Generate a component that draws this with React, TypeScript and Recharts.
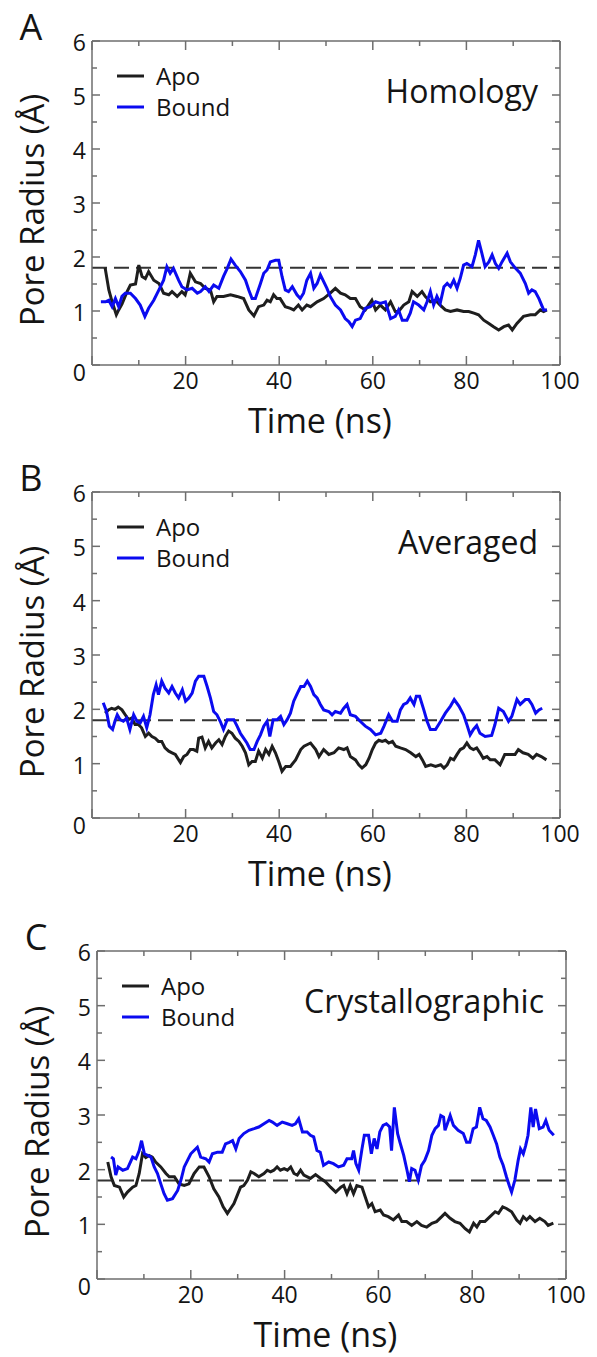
import React from "react";
import { LineChart, Line, XAxis, YAxis, ReferenceLine, Legend } from "recharts";

// Pore radius traces: time (ns) and radius (Å)
const apoHomologyTime = [2.8, 3.6, 4.3, 5.2, 5.7, 6.4, 7.5, 8.2, 9.3, 10.0, 10.7, 11.4, 12.1, 13.2, 14.3, 15.3, 16.4, 17.1, 18.2, 19.2, 19.9, 20.3, 21.0, 22.1, 23.2, 24.2, 25.3, 26.0, 26.7, 28.1, 29.6, 31.0, 32.4, 33.5, 34.6, 35.6, 36.7, 37.4, 38.1, 38.8, 39.5, 40.2, 41.3, 42.4, 43.1, 44.1, 44.9, 45.9, 46.7, 48.1, 49.5, 50.9, 52.0, 53.1, 54.1, 55.2, 56.3, 57.3, 58.4, 59.8, 60.6, 61.6, 62.7, 63.8, 64.8, 65.5, 66.6, 67.7, 68.4, 69.5, 70.5, 71.2, 72.3, 73.4, 74.4, 75.5, 76.6, 78.0, 79.4, 80.5, 81.6, 82.6, 83.7, 84.8, 85.8, 86.9, 88.0, 89.0, 89.8, 90.8, 92.2, 93.7, 94.7, 95.8, 96.5, 97.2];
const apoHomologyRadius = [1.8, 1.39, 1.17, 0.93, 1.02, 1.13, 1.36, 1.48, 1.5, 1.85, 1.64, 1.6, 1.73, 1.57, 1.51, 1.33, 1.3, 1.36, 1.27, 1.36, 1.3, 1.42, 1.7, 1.54, 1.51, 1.42, 1.39, 1.17, 1.27, 1.27, 1.3, 1.27, 1.23, 1.02, 0.91, 1.08, 1.11, 1.2, 1.17, 1.3, 1.23, 1.23, 1.08, 1.05, 1.02, 1.11, 1.02, 1.11, 1.08, 1.17, 1.23, 1.33, 1.42, 1.33, 1.3, 1.23, 1.23, 1.08, 1.02, 1.2, 1.02, 1.11, 1.02, 1.17, 0.99, 0.99, 1.11, 1.17, 1.36, 1.27, 1.36, 1.27, 1.17, 1.2, 1.11, 1.02, 0.99, 1.02, 0.99, 0.99, 0.96, 0.93, 0.83, 0.77, 0.71, 0.65, 0.71, 0.74, 0.65, 0.77, 0.9, 0.93, 0.93, 1.02, 0.99, 1.02];

const boundHomologyTime = [1.9, 2.9, 3.6, 4.3, 5.0, 5.7, 6.4, 7.1, 8.2, 9.3, 10.3, 11.3, 12.1, 13.2, 14.3, 15.3, 16.0, 16.7, 17.4, 18.5, 19.2, 20.3, 21.4, 22.5, 23.2, 24.2, 25.0, 26.0, 27.1, 28.1, 28.9, 29.7, 30.6, 31.7, 32.8, 33.5, 34.2, 34.9, 36.0, 36.7, 37.4, 38.1, 39.2, 39.9, 40.6, 41.3, 42.0, 42.8, 43.8, 44.5, 45.2, 45.9, 46.7, 47.4, 48.1, 48.8, 50.2, 50.9, 52.0, 53.1, 54.1, 54.9, 55.6, 56.3, 57.3, 58.4, 59.5, 60.6, 61.6, 62.7, 63.8, 64.8, 65.5, 66.3, 67.3, 68.0, 68.7, 69.8, 70.9, 71.6, 72.3, 73.0, 73.7, 74.4, 75.2, 75.9, 76.6, 77.3, 78.0, 78.7, 79.4, 80.1, 81.2, 81.9, 82.6, 83.3, 84.0, 84.8, 85.5, 86.2, 86.9, 87.6, 88.7, 89.4, 90.5, 91.5, 92.6, 93.3, 94.0, 94.7, 95.5, 96.5, 97.2];
const boundHomologyRadius = [1.17, 1.17, 1.2, 1.08, 1.23, 1.08, 1.27, 1.33, 1.33, 1.23, 1.11, 0.9, 1.05, 1.2, 1.39, 1.57, 1.82, 1.7, 1.79, 1.57, 1.45, 1.39, 1.42, 1.33, 1.36, 1.45, 1.36, 1.48, 1.42, 1.64, 1.79, 1.96, 1.85, 1.73, 1.57, 1.39, 1.23, 1.23, 1.51, 1.7, 1.76, 1.91, 1.94, 1.94, 1.64, 1.39, 1.36, 1.45, 1.3, 1.23, 1.33, 1.57, 1.7, 1.42, 1.51, 1.67, 1.42, 1.27, 1.11, 1.02, 0.86, 0.8, 0.71, 0.83, 0.86, 1.05, 1.08, 1.17, 1.14, 1.17, 0.86, 0.9, 1.02, 0.83, 0.83, 0.96, 1.17, 1.11, 1.02, 1.17, 1.36, 1.11, 1.27, 1.14, 1.45, 1.51, 1.45, 1.57, 1.42, 1.61, 1.85, 1.88, 1.82, 2.04, 2.31, 2.07, 1.82, 1.91, 2.04, 1.88, 1.79, 1.91, 2.07, 1.91, 1.79, 1.7, 1.51, 1.33, 1.39, 1.36, 1.23, 1.02, 1.02];

const apoAveragedTime = [2.8, 3.5, 4.2, 4.9, 5.6, 6.4, 7.1, 7.8, 8.5, 9.2, 9.9, 10.6, 11.4, 12.1, 12.8, 13.5, 14.2, 14.9, 15.6, 16.4, 17.1, 17.8, 18.9, 19.6, 20.3, 21.0, 21.7, 22.4, 22.8, 23.5, 24.2, 24.9, 25.6, 26.4, 27.1, 27.8, 28.5, 29.2, 29.9, 30.6, 31.4, 32.1, 32.8, 33.5, 34.2, 34.9, 35.6, 36.4, 37.1, 37.8, 38.5, 39.2, 39.9, 40.6, 41.4, 42.4, 43.5, 44.6, 45.3, 46.7, 47.8, 48.5, 49.5, 50.6, 51.7, 52.7, 53.8, 54.5, 55.2, 56.3, 57.0, 57.7, 58.5, 59.2, 59.9, 60.6, 61.3, 62.0, 62.7, 63.4, 64.2, 64.9, 65.9, 67.0, 68.1, 69.2, 69.9, 70.6, 71.3, 72.4, 73.4, 74.5, 75.2, 75.9, 76.6, 77.3, 78.0, 78.7, 79.4, 80.1, 80.8, 81.5, 82.2, 82.9, 83.6, 84.4, 85.1, 86.1, 87.2, 88.2, 89.3, 90.4, 91.1, 92.1, 93.2, 94.2, 95.0, 96.0, 97.1];
const apoAveragedRadius = [1.93, 1.99, 2.02, 2.0, 2.04, 1.99, 1.9, 1.81, 1.84, 1.72, 1.72, 1.66, 1.5, 1.56, 1.5, 1.47, 1.41, 1.41, 1.29, 1.23, 1.2, 1.17, 1.02, 1.13, 1.17, 1.26, 1.26, 1.23, 1.47, 1.49, 1.29, 1.41, 1.29, 1.38, 1.44, 1.35, 1.5, 1.6, 1.56, 1.47, 1.41, 1.32, 1.2, 0.98, 1.04, 1.04, 1.23, 1.1, 1.26, 1.17, 1.32, 1.2, 1.04, 0.86, 0.95, 0.95, 1.07, 1.26, 1.32, 1.38, 1.26, 1.13, 1.26, 1.17, 1.2, 1.29, 1.26, 1.29, 1.13, 1.07, 0.98, 0.92, 0.98, 1.1, 1.26, 1.38, 1.43, 1.41, 1.43, 1.38, 1.41, 1.32, 1.29, 1.26, 1.2, 1.13, 1.17, 1.07, 0.95, 0.98, 0.95, 0.98, 0.92, 0.98, 1.1, 1.07, 1.17, 1.26, 1.29, 1.38, 1.29, 1.26, 1.29, 1.2, 1.1, 1.13, 1.07, 1.07, 0.98, 1.17, 1.17, 1.17, 1.26, 1.2, 1.17, 1.1, 1.17, 1.13, 1.07];

const boundAveragedTime = [2.4, 3.1, 3.7, 4.4, 4.9, 5.4, 6.0, 6.7, 7.4, 8.1, 8.9, 9.6, 10.3, 11.0, 11.7, 12.4, 13.1, 13.7, 14.2, 14.9, 15.6, 16.4, 17.1, 17.8, 18.5, 19.3, 20.0, 20.7, 21.4, 22.1, 22.8, 23.9, 24.6, 25.3, 26.0, 26.7, 27.4, 28.1, 28.9, 29.6, 30.3, 31.0, 31.7, 32.4, 33.1, 33.8, 34.6, 35.3, 36.0, 36.7, 37.4, 38.0, 38.7, 39.6, 40.3, 41.0, 41.7, 42.4, 43.1, 43.9, 44.6, 45.3, 46.0, 46.7, 47.4, 48.1, 48.8, 49.5, 50.6, 51.3, 52.0, 53.1, 53.8, 54.5, 55.2, 56.3, 57.3, 58.4, 59.5, 60.6, 61.7, 62.4, 63.4, 64.2, 65.2, 65.9, 66.6, 67.3, 68.0, 68.8, 69.3, 70.0, 70.9, 71.6, 72.3, 73.4, 74.5, 75.5, 76.6, 77.4, 78.4, 79.4, 80.1, 80.8, 81.5, 82.2, 82.9, 84.0, 85.4, 86.1, 86.9, 87.9, 89.0, 89.7, 90.8, 91.5, 92.6, 93.3, 94.0, 94.8, 95.5, 96.2];
const boundAveragedRadius = [2.12, 1.96, 1.69, 1.63, 1.78, 1.9, 1.81, 1.78, 1.84, 1.63, 1.9, 1.78, 1.75, 1.87, 1.66, 1.9, 2.27, 2.45, 2.27, 2.52, 2.39, 2.3, 2.42, 2.3, 2.21, 2.36, 2.15, 2.21, 2.3, 2.52, 2.61, 2.61, 2.42, 2.21, 1.96, 1.9, 1.78, 1.63, 1.81, 1.81, 1.81, 1.69, 1.56, 1.47, 1.38, 1.26, 1.26, 1.41, 1.53, 1.69, 1.78, 1.5, 1.81, 1.81, 1.87, 1.72, 1.81, 1.93, 2.15, 2.3, 2.42, 2.42, 2.52, 2.42, 2.27, 2.21, 2.09, 1.99, 1.96, 1.9, 1.96, 1.93, 2.02, 2.09, 1.9, 1.87, 1.78, 1.69, 1.63, 1.53, 1.56, 1.69, 1.9, 1.78, 1.78, 1.99, 2.09, 2.12, 2.21, 2.09, 2.24, 2.24, 1.99, 1.78, 1.63, 1.63, 1.78, 1.93, 2.06, 2.18, 2.06, 1.9, 1.72, 1.53, 1.63, 1.7, 1.56, 1.5, 1.52, 1.72, 2.02, 1.96, 1.78, 1.87, 2.18, 2.09, 2.18, 2.18, 2.09, 1.93, 1.99, 2.02];

const apoCrystalTime = [2.3, 3.0, 3.7, 4.8, 5.7, 6.5, 7.6, 8.3, 9.0, 9.7, 10.4, 11.1, 11.8, 12.5, 13.6, 14.7, 15.4, 16.5, 17.5, 18.6, 19.6, 20.7, 21.8, 22.8, 23.9, 24.9, 26.0, 26.9, 27.8, 28.5, 29.2, 29.9, 30.6, 31.3, 32.1, 32.8, 33.5, 34.5, 35.6, 36.3, 37.0, 37.7, 38.4, 39.1, 39.9, 40.6, 41.3, 42.0, 42.7, 43.4, 44.1, 45.5, 46.6, 47.7, 48.7, 49.8, 50.9, 52.0, 52.6, 53.3, 54.0, 54.7, 55.4, 56.5, 57.2, 57.9, 58.6, 59.3, 60.4, 61.1, 62.1, 63.2, 64.3, 65.0, 66.0, 67.1, 68.2, 69.2, 70.3, 71.4, 72.4, 73.5, 74.2, 75.3, 76.3, 77.4, 78.5, 79.4, 80.3, 81.0, 81.7, 82.7, 83.8, 84.9, 85.6, 86.5, 87.3, 88.4, 89.5, 90.2, 90.9, 91.6, 92.3, 93.4, 94.4, 95.5, 96.2, 97.3];
const apoCrystalRadius = [2.14, 1.87, 1.71, 1.68, 1.5, 1.59, 1.68, 1.71, 1.93, 2.29, 2.22, 2.26, 2.23, 2.14, 2.05, 1.93, 1.87, 1.87, 1.74, 1.71, 1.74, 1.93, 2.05, 2.05, 1.87, 1.65, 1.5, 1.32, 1.2, 1.29, 1.38, 1.53, 1.68, 1.71, 1.81, 1.96, 1.93, 1.87, 1.93, 1.99, 1.96, 1.99, 2.05, 1.99, 2.02, 1.99, 2.05, 1.93, 1.9, 1.99, 1.9, 1.84, 1.91, 1.84, 1.78, 1.68, 1.59, 1.68, 1.71, 1.56, 1.71, 1.56, 1.71, 1.68, 1.5, 1.32, 1.38, 1.23, 1.26, 1.17, 1.14, 1.08, 1.17, 1.05, 1.05, 0.98, 1.05, 0.98, 0.95, 1.02, 1.05, 1.14, 1.2, 1.11, 1.05, 1.02, 0.92, 0.86, 1.02, 0.95, 1.05, 1.05, 1.14, 1.23, 1.2, 1.32, 1.29, 1.23, 1.08, 1.02, 1.14, 1.08, 1.14, 1.05, 1.11, 1.05, 0.98, 1.02];

const boundCrystalTime = [3.0, 3.5, 4.0, 4.5, 5.5, 6.5, 7.6, 8.3, 9.0, 9.5, 10.1, 10.8, 11.5, 12.2, 12.9, 13.6, 14.3, 15.0, 16.1, 17.2, 17.9, 18.6, 19.3, 20.0, 20.7, 21.4, 22.1, 23.2, 23.9, 24.6, 25.7, 26.7, 27.4, 28.2, 28.9, 29.6, 30.3, 31.3, 32.4, 33.5, 34.5, 35.6, 36.7, 37.4, 38.4, 39.5, 40.6, 41.6, 42.3, 43.0, 43.8, 44.8, 45.5, 46.2, 46.9, 47.6, 48.3, 49.4, 50.4, 51.5, 52.6, 53.3, 54.3, 54.7, 55.2, 55.8, 56.5, 57.0, 57.9, 58.5, 59.1, 59.7, 60.3, 61.0, 61.7, 62.4, 62.8, 63.4, 64.1, 64.6, 65.4, 66.1, 66.6, 67.1, 67.8, 68.5, 69.2, 69.9, 70.7, 71.4, 72.1, 72.8, 73.3, 73.9, 74.2, 74.7, 75.3, 76.0, 77.0, 78.1, 78.8, 79.5, 80.2, 80.9, 81.6, 82.3, 83.0, 83.8, 84.5, 85.2, 85.9, 86.6, 87.3, 87.9, 88.4, 89.1, 89.8, 90.3, 90.9, 91.4, 91.9, 92.5, 93.0, 93.5, 94.3, 95.1, 95.7, 96.4, 97.4];
const boundCrystalRadius = [2.23, 2.2, 1.9, 2.05, 1.99, 2.02, 2.23, 2.2, 2.35, 2.53, 2.29, 2.26, 2.23, 2.05, 1.93, 1.74, 1.56, 1.44, 1.47, 1.62, 1.81, 2.05, 2.17, 2.29, 2.35, 2.41, 2.23, 2.2, 2.14, 2.29, 2.32, 2.32, 2.47, 2.5, 2.53, 2.38, 2.57, 2.66, 2.72, 2.75, 2.78, 2.84, 2.9, 2.87, 2.81, 2.87, 2.84, 2.81, 2.84, 2.93, 2.69, 2.69, 2.63, 2.6, 2.35, 2.32, 2.08, 2.14, 2.11, 2.05, 2.08, 2.2, 2.2, 2.35, 2.11, 1.99, 2.38, 2.63, 2.63, 2.29, 2.57, 2.38, 2.69, 2.81, 2.84, 2.78, 2.35, 3.14, 2.66, 2.5, 2.26, 1.99, 1.78, 2.02, 1.99, 1.81, 2.08, 2.17, 2.35, 2.63, 2.75, 2.81, 2.99, 2.96, 2.72, 2.84, 2.99, 2.81, 2.72, 2.66, 2.5, 2.5, 2.75, 2.78, 3.14, 2.93, 2.9, 2.78, 2.63, 2.47, 2.23, 2.08, 1.87, 1.71, 1.59, 1.81, 2.17, 2.38, 2.29, 2.44, 2.63, 3.14, 2.78, 3.11, 2.75, 2.78, 2.9, 2.72, 2.63];

const panelLetters = ["A", "B", "C"];
const panelNames = ["Homology", "Averaged", "Crystallographic"];
const seriesNames = ["Apo", "Bound"];
const referenceRadius = 1.8;
const xTicks = [0, 10, 20, 30, 40, 50, 60, 70, 80, 90, 100];
const xTickLabels = [20, 40, 60, 80, 100];
const yTicks = [0, 0.5, 1, 1.5, 2, 2.5, 3, 3.5, 4, 4.5, 5, 5.5, 6];
const yTickLabels = [0, 1, 2, 3, 4, 5, 6];

const W = 597;
const AXIS = "#6e6e6e";
const INK = "#141414";
const APO = "#1e1e1e";
const BOUND = "#0b0bf0";
const FONT = "'Open Sans', sans-serif";

const toPoints = (time: number[], radius: number[]) =>
	time.map((t, i) => ({ time: t, radius: radius[i] }));

// inward ticks on all four sides of the frame
const BottomTick = (props: any) => {
	const { x, y, payload } = props;
	const v = payload.value;
	return (
		<g>
			<line x1={x} x2={x} y1={y} y2={y - (v % 20 === 0 ? 9 : 5)} stroke={AXIS} strokeWidth={1.5} />
			{xTickLabels.includes(v) && (
				<text x={x} y={y + 24} textAnchor="middle" fontSize={23} fill={INK} fontFamily={FONT}>
					{v}
				</text>
			)}
		</g>
	);
};

const TopTick = (props: any) => {
	const { x, y, payload } = props;
	return <line x1={x} x2={x} y1={y} y2={y + (payload.value % 20 === 0 ? 9 : 5)} stroke={AXIS} strokeWidth={1.5} />;
};

const LeftTick = (props: any) => {
	const { x, y, payload } = props;
	const v = payload.value;
	const major = Number.isInteger(v);
	return (
		<g>
			<line x1={x} x2={x + (major ? 8 : 5)} y1={y} y2={y} stroke={AXIS} strokeWidth={1.5} />
			{yTickLabels.includes(v) && (
				<text x={x - 6} y={y + (v === 0 ? 16 : 10)} textAnchor="end" fontSize={23} fill={INK} fontFamily={FONT}>
					{v}
				</text>
			)}
		</g>
	);
};

const RightTick = (props: any) => {
	const { x, y, payload } = props;
	return <line x1={x} x2={x - (Number.isInteger(payload.value) ? 8 : 5)} y1={y} y2={y} stroke={AXIS} strokeWidth={1.5} />;
};

const LegendRows = (props: any) => (
	<div style={{ fontFamily: FONT, fontSize: 24, color: INK }}>
		{(props.payload || []).map((p: any) => (
			<div key={p.value} style={{ display: "flex", alignItems: "center", height: 31, lineHeight: "31px" }}>
				<svg width={27} height={4} style={{ marginRight: 12 }}>
					<line x1={0} x2={27} y1={2} y2={2} stroke={p.color} strokeWidth={3} />
				</svg>
				<span>{p.value}</span>
			</div>
		))}
	</div>
);

type PanelProps = {
	top: number;
	height: number;
	plot: { top: number; right: number; bottom: number; left: number };
	index: number;
	apo: { time: number; radius: number }[];
	bound: { time: number; radius: number }[];
};

// plot = distances of the frame from the panel edges; each axis takes 1px of it
const Panel = ({ top, height, plot, index, apo, bound }: PanelProps) => {
	const plotLeft = plot.left;
	const plotTop = plot.top;
	const plotRight = W - plot.right;
	const plotBottom = height - plot.bottom;
	const midX = (plotLeft + plotRight) / 2;
	const midY = (plotTop + plotBottom) / 2;
	const margin = { top: plot.top - 1, right: plot.right - 1, bottom: plot.bottom - 1, left: plot.left - 1 };
	const frame = { stroke: AXIS, strokeWidth: 1.5 };
	return (
		<div style={{ position: "absolute", left: 0, top, width: W, height }}>
			<LineChart width={W} height={height} margin={margin}>
				<XAxis type="number" dataKey="time" domain={[0, 100]} ticks={xTicks} interval={0} height={1} tickSize={0} tickMargin={0} tickLine={false} axisLine={frame} tick={BottomTick} allowDataOverflow />
				<XAxis xAxisId="top" orientation="top" type="number" dataKey="time" domain={[0, 100]} ticks={xTicks} interval={0} height={1} tickSize={0} tickMargin={0} tickLine={false} axisLine={frame} tick={TopTick} allowDataOverflow />
				<YAxis type="number" domain={[0, 6]} ticks={yTicks} interval={0} width={1} tickSize={0} tickMargin={0} tickLine={false} axisLine={frame} tick={LeftTick} allowDataOverflow />
				<YAxis yAxisId="right" orientation="right" type="number" domain={[0, 6]} ticks={yTicks} interval={0} width={1} tickSize={0} tickMargin={0} tickLine={false} axisLine={frame} tick={RightTick} allowDataOverflow />
				<ReferenceLine y={referenceRadius} stroke="#333" strokeWidth={2} strokeDasharray="15 7" />
				<Line data={apo} dataKey="radius" name={seriesNames[0]} stroke={APO} strokeWidth={3} dot={false} type="linear" isAnimationActive={false} />
				<Line data={bound} dataKey="radius" name={seriesNames[1]} stroke={BOUND} strokeWidth={3} dot={false} type="linear" isAnimationActive={false} />
				<Legend layout="vertical" align="center" verticalAlign="middle" content={LegendRows} wrapperStyle={{ left: plotLeft + 25, top: plotTop + 19, width: "auto", height: "auto" }} />
				<text x={plotLeft - 61} y={plotTop - 1} textAnchor="middle" fontSize={36} fill={INK} fontFamily={FONT}>
					{panelLetters[index]}
				</text>
				<text x={plotRight - 22} y={plotTop + 62} textAnchor="end" fontSize={32} fill={INK} fontFamily={FONT}>
					{panelNames[index]}
				</text>
				<text x={midX - 6} y={plotBottom + 68} textAnchor="middle" fontSize={34} fill={INK} fontFamily={FONT}>
					Time (ns)
				</text>
				<text transform={`translate(${plotLeft - 48}, ${midY + 7}) rotate(-90)`} textAnchor="middle" fontSize={33} fill={INK} fontFamily={FONT}>
					Pore Radius (Å)
				</text>
			</LineChart>
		</div>
	);
};

export default function App() {
	return (
		<div style={{ position: "absolute", left: 0, top: 0, width: W, height: 1357, background: "#fff", fontFamily: FONT }}>
			<Panel top={0} height={445} plot={{ top: 41, right: 37, bottom: 80, left: 92 }} index={0} apo={toPoints(apoHomologyTime, apoHomologyRadius)} bound={toPoints(boundHomologyTime, boundHomologyRadius)} />
			<Panel top={445} height={450} plot={{ top: 47, right: 37, bottom: 77, left: 92 }} index={1} apo={toPoints(apoAveragedTime, apoAveragedRadius)} bound={toPoints(boundAveragedTime, boundAveragedRadius)} />
			<Panel top={895} height={462} plot={{ top: 56, right: 31, bottom: 78, left: 97 }} index={2} apo={toPoints(apoCrystalTime, apoCrystalRadius)} bound={toPoints(boundCrystalTime, boundCrystalRadius)} />
		</div>
	);
}
